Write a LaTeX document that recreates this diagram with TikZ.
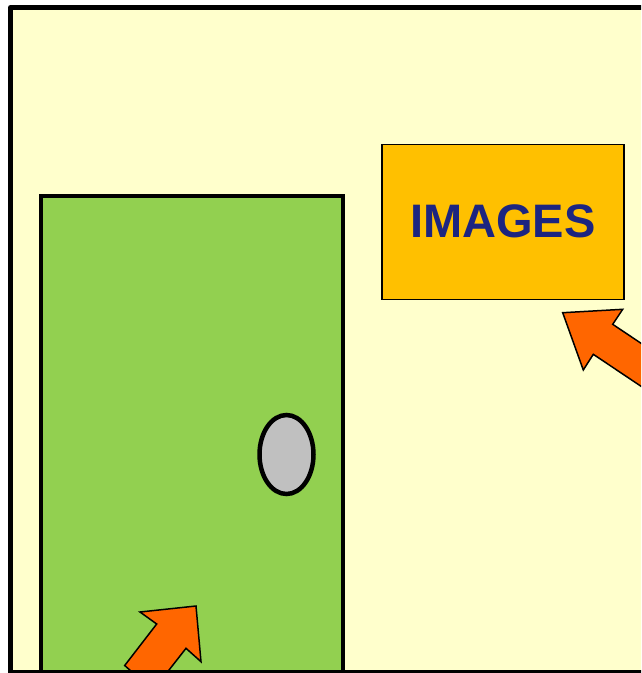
\documentclass[tikz,border=0pt]{standalone}
\usepackage{fontspec}
\setmainfont{Liberation Sans}
\usetikzlibrary{shapes.geometric}
\definecolor{bgyellow}{HTML}{FFFFCC}
\definecolor{doorgreen}{HTML}{92D050}
\definecolor{knobgray}{HTML}{C0C0C0}
\definecolor{boxorange}{HTML}{FFC000}
\definecolor{arroworange}{HTML}{FF6600}
\definecolor{textblue}{HTML}{1C2580}
\tikzset{
  blockarrow/.style={fill=arroworange, draw=black, line width=1.5pt, line join=miter},
}
\begin{document}
\begin{tikzpicture}[x=1pt,y=-1pt]
\useasboundingbox (0,0) rectangle (641,673);
\clip (0,0) rectangle (641,673);
% frame fill
\fill[bgyellow] (10.5,7.5) rectangle (700,672);
% door
\node[draw=black, line width=4.5pt, fill=doorgreen, rectangle,
      minimum width=302pt, minimum height=476pt, inner sep=0pt] (door) at (192,434) {};
% knob
\node[draw=black, line width=4.5pt, fill=knobgray, ellipse,
      minimum width=54pt, minimum height=79pt, inner sep=0pt] (knob) at (286.5,454.5) {};
% images box
\node[draw=black, line width=1.3pt, fill=boxorange, rectangle,
      minimum width=242pt, minimum height=155pt, inner sep=0pt,
      font=\bfseries\fontsize{47}{50}\selectfont, text=textblue] (images) at (502.9,221.7) {IMAGES};
% arrow pointing to images box
\coordinate (a1tip) at (562.7,312.7);
\draw[blockarrow] (a1tip) -- (622.7,309.3) -- (612.7,324.3) -- (680,369.4)
  -- (660.6,399.4) -- (593.3,354.3) -- (583.3,370) -- cycle;
% arrow on the door
\coordinate (a2tip) at (196,606);
\draw[blockarrow] (a2tip) -- (201,661.7) -- (186,648.3) -- (153,690.5)
  -- (124.7,665.5) -- (156.7,624) -- (140,612) -- cycle;
% frame border on top
\draw[black, line width=5pt, line join=round] (700,7.5) -- (10.5,7.5) -- (10.5,672) -- (700,672);
\end{tikzpicture}
\end{document}
